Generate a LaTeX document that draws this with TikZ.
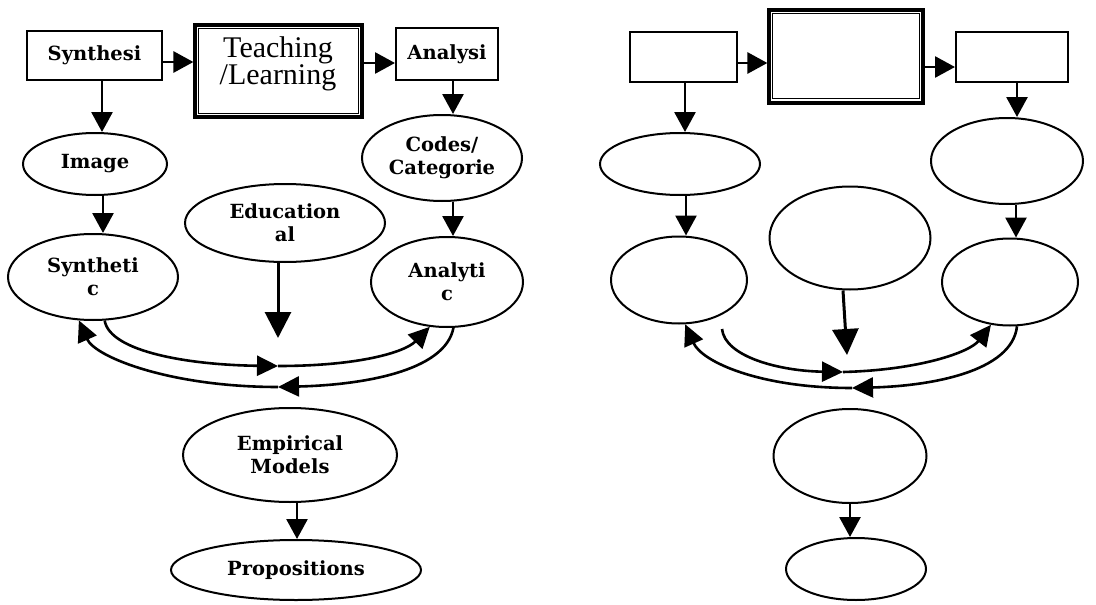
\documentclass[tikz,border=0pt]{standalone}
\usepackage{fontspec}
\setmainfont{DejaVu Serif}
\newfontfamily\teachfont{Liberation Serif}
\usetikzlibrary{shapes.geometric,arrows.meta,calc}
\begin{document}
\begin{tikzpicture}[x=1pt,y=-1pt,
  lbl/.style={font=\fontsize{19.5}{23}\selectfont\bfseries, align=center},
  sbox/.style={draw, line width=2pt, inner sep=0pt},
  ell/.style={draw, ellipse, line width=2pt, inner sep=0pt},
  tbox/.style={draw, line width=3.2pt, inner sep=0pt},
  arr/.style={line width=2.8pt, -{Triangle[width=21pt,length=20pt]}},
  bigarr/.style={line width=3pt, -{Triangle[width=26pt,length=26pt]}},
  carr/.style={line width=2.6pt, -{Triangle[width=20pt,length=21pt]}}]
\useasboundingbox (0,0) rectangle (1096,605);
\fill[white] (0,0) rectangle (1096,605);

% ---------- left diagram ----------
\node[sbox, minimum width=135pt, minimum height=49pt, lbl] (synbox) at (94.5,55.5) {Synthesi};
\node[tbox, minimum width=167pt, minimum height=92pt] (teach) at (278.5,71) {};
\draw[line width=1pt] ($(teach.north west)+(5,5)$) rectangle ($(teach.south east)+(-5,-5)$);
\node[font=\teachfont\fontsize{30}{22}\selectfont, align=center] (teachtxt) at (278,64) {Teaching\\/Learning};
\node[sbox, minimum width=102pt, minimum height=52pt, lbl] (anbox) at (447,54) {Analysi};

\node[ell, minimum width=144pt, minimum height=62pt, lbl] (image) at (95,164) {Image};
\node[ell, minimum width=160pt, minimum height=86pt, lbl] (codes) at (442,158) {Codes/\\Categorie};
\node[ell, minimum width=200pt, minimum height=78pt, lbl] (edu) at (285,223) {Education\\al};
\node[ell, minimum width=170pt, minimum height=86pt, lbl] (synth) at (93,277) {Syntheti\\c};
\node[ell, minimum width=152pt, minimum height=90pt, lbl] (anal) at (447,282) {Analyti\\c};
\node[ell, minimum width=214pt, minimum height=94pt, lbl] (emp) at (290,455) {Empirical\\Models};
\node[ell, minimum width=250pt, minimum height=60pt, lbl] (prop) at (296,570) {Propositions};

\draw[arr] ($(synbox.east)+(0,6.5)$) -- ($(teach.west)+(0,-9)$);
\draw[arr] ($(teach.east)+(0,-8)$) -- ($(anbox.west)+(0,9)$);
\draw[arr] ([xshift=7.5pt]synbox.south) -- ([xshift=7pt]image.north);
\draw[arr] ([xshift=6pt]anbox.south) -- ([xshift=11pt]codes.north);
\draw[arr] ([xshift=8pt]image.south) -- ([xshift=10pt]synth.north);
\draw[arr] ([xshift=11pt]codes.south) -- ([xshift=6pt]anal.north);
\coordinate (edutip) at (278,338);
\draw[bigarr] ([xshift=-7pt]edu.south) -- (edutip);
\draw[arr] ([xshift=7pt]emp.south) -- ([xshift=1pt]prop.north);

\coordinate (m1) at (278,366);
\coordinate (m2) at (278,387);
\draw[carr] (synth.-75) .. controls (110,352) and (190,365) .. (m1);
\draw[carr] (m1) .. controls (360,366) and (405,352) .. (anal.-111);
\draw[carr] (anal.-82) .. controls (445,372) and (360,385) .. (m2);
\draw[carr] (m2) .. controls (170,387) and (95,357) .. (synth.-108);

% ---------- right diagram ----------
\node[sbox, minimum width=107pt, minimum height=50pt] (b1) at (683.5,57) {};
\node[tbox, minimum width=154pt, minimum height=93pt] (big) at (846,56.5) {};
\draw[line width=1pt] ($(big.north west)+(5,5)$) rectangle ($(big.south east)+(-5,-6)$);
\node[sbox, minimum width=112pt, minimum height=50pt] (b3) at (1012,57) {};

\node[ell, minimum width=160pt, minimum height=62pt] (e1) at (680,164) {};
\node[ell, minimum width=152pt, minimum height=86pt] (e3) at (1007,161) {};
\node[ell, minimum width=161pt, minimum height=103pt] (emid) at (850,238) {};
\node[ell, minimum width=136pt, minimum height=87pt] (elm) at (679,280) {};
\node[ell, minimum width=136pt, minimum height=87pt] (erm) at (1010,282) {};
\node[ell, minimum width=153pt, minimum height=94pt] (elow) at (850,456) {};
\node[ell, minimum width=140pt, minimum height=62pt] (ebot) at (856,569) {};

\draw[arr] ($(b1.east)+(0,6)$) -- ($(big.west)+(0,6.5)$);
\draw[arr] ($(big.east)+(0,10.5)$) -- ($(b3.west)+(0,10)$);
\draw[arr] ([xshift=1.5pt]b1.south) -- ([xshift=5pt]e1.north);
\draw[arr] ([xshift=5pt]b3.south) -- ([xshift=10pt]e3.north);
\draw[arr] ([xshift=6pt]e1.south) -- ([xshift=7pt]elm.north);
\draw[arr] ([xshift=9pt]e3.south) -- ([xshift=6pt]erm.north);
\coordinate (midtip) at (847,355);
\draw[bigarr] ([xshift=-7pt]emid.south) -- (midtip);
\draw[arr] (elow.south) -- ([xshift=-6pt]ebot.north);

\coordinate (r0) at (722,329);
\coordinate (rm1) at (843,372);
\coordinate (rm2) at (852,388);
\draw[carr] (r0) .. controls (725,357) and (780,371) .. (rm1);
\draw[carr] (rm1) .. controls (920,370) and (970,352) .. (erm.-114);
\draw[carr] (erm.-81) .. controls (1012,372) and (930,386) .. (rm2);
\draw[carr] (rm2) .. controls (760,388) and (702,362) .. (elm.-82);
\end{tikzpicture}
\end{document}
